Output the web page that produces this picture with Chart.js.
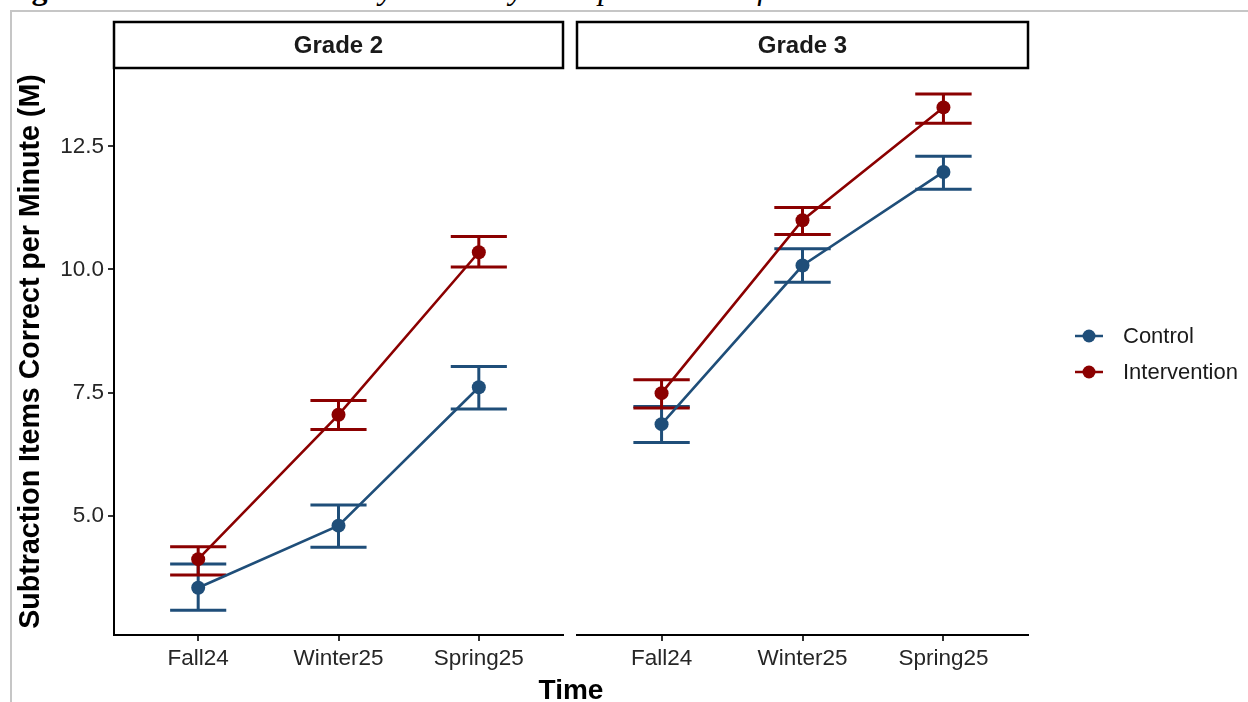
<!DOCTYPE html>
<html>
<head>
<meta charset="utf-8">
<script src="https://cdn.jsdelivr.net/npm/chart.js@4.4.1/dist/chart.umd.min.js"></script>
<style>
  html, body { margin: 0; padding: 0; background: #fff; }
  #wrap { position: relative; width: 1248px; height: 702px; overflow: hidden; background: #fff; }
  #frame { position: absolute; left: 10px; top: 10px; right: -4px; bottom: -4px; border-left: 2px solid #c6c6c6; border-top: 2px solid #c6c6c6; }
  canvas { position: absolute; left: 0; top: 0; }
  #caption { position: absolute; left: 3px; top: -28px; font: italic 32px "Liberation Serif", serif; line-height: 32px; white-space: nowrap; color: #000; }
  #caption b { font-style: normal; }
  #xtitle { position: absolute; left: 0; top: 676px; width: 1142px; text-align: center; font: bold 28px "Liberation Sans", Arial, sans-serif; line-height: 28px; color: #000; }
</style>
</head>
<body>
<div id="wrap">
  <div id="caption"><b>Figure 3.</b> Subtraction Fluency Scores by Group over Time for Grade 2 and Grade 3 Students</div>
  <div id="frame"></div>
  <canvas id="grade2" width="1248" height="702"></canvas>
  <canvas id="grade3" width="1248" height="702"></canvas>
  <div id="xtitle">Time</div>
</div>
<script>
const timeLabels = ['Fall24', 'Winter25', 'Spring25'];
const gradeLabels = ['Grade 2', 'Grade 3'];
const groupLabels = ['Control', 'Intervention'];
const groupColors = ['#1f4e79', '#8b0000'];
const yTicks = [5, 7.5, 10, 12.5];

// means and error bar ends
const g2ControlMean = [3.54, 4.80, 7.61];
const g2ControlLow = [3.08, 4.36, 7.17];
const g2ControlHigh = [4.02, 5.22, 8.03];
const g2InterMean = [4.12, 7.05, 10.35];
const g2InterLow = [3.80, 6.75, 10.05];
const g2InterHigh = [4.37, 7.34, 10.67];

const g3ControlMean = [6.86, 10.08, 11.98];
const g3ControlLow = [6.49, 9.74, 11.63];
const g3ControlHigh = [7.22, 10.42, 12.30];
const g3InterMean = [7.49, 11.00, 13.29];
const g3InterLow = [7.19, 10.71, 12.97];
const g3InterHigh = [7.76, 11.26, 13.56];

const FONT = '"Liberation Sans", Arial, sans-serif';

function points(mean, low, high) {
  return mean.map((m, i) => ({ x: i, y: m, low: low[i], high: high[i] }));
}

const errorBars = {
  id: 'errorBars',
  beforeDatasetsDraw(chart) {
    const { ctx, scales: { x, y } } = chart;
    chart.data.datasets.forEach(ds => {
      ctx.save();
      ctx.strokeStyle = ds.borderColor;
      ctx.lineWidth = 3;
      ds.data.forEach(d => {
        const px = x.getPixelForValue(d.x);
        const half = x.getPixelForValue(d.x + 0.2) - px;
        const yl = y.getPixelForValue(d.low);
        const yh = y.getPixelForValue(d.high);
        ctx.beginPath();
        ctx.moveTo(px - half, yh); ctx.lineTo(px + half, yh);
        ctx.moveTo(px, yh); ctx.lineTo(px, yl);
        ctx.moveTo(px - half, yl); ctx.lineTo(px + half, yl);
        ctx.stroke();
      });
      ctx.restore();
    });
  }
};

const strip = {
  id: 'strip',
  afterDraw(chart, args, opts) {
    const { ctx, chartArea: a } = chart;
    ctx.save();
    ctx.lineWidth = 2.5;
    ctx.strokeStyle = '#000';
    ctx.strokeRect(a.left, 22, a.right - a.left, a.top - 22);
    ctx.font = 'bold 24px ' + FONT;
    ctx.fillStyle = '#1a1a1a';
    ctx.textAlign = 'center';
    ctx.textBaseline = 'middle';
    ctx.fillText(opts.text, (a.left + a.right) / 2, (22 + a.top) / 2 + 1);
    ctx.restore();
  }
};

const sideLegend = {
  id: 'sideLegend',
  afterDraw(chart, args, opts) {
    if (!opts.show) return;
    const { ctx } = chart;
    ctx.save();
    groupLabels.forEach((name, i) => {
      const cy = 336 + i * 36;
      ctx.strokeStyle = groupColors[i];
      ctx.fillStyle = groupColors[i];
      ctx.lineWidth = 2.5;
      ctx.beginPath();
      ctx.moveTo(1075, cy); ctx.lineTo(1103, cy);
      ctx.stroke();
      ctx.beginPath();
      ctx.arc(1089, cy, 6.5, 0, Math.PI * 2);
      ctx.fill();
      ctx.font = '22px ' + FONT;
      ctx.fillStyle = '#1a1a1a';
      ctx.textAlign = 'left';
      ctx.textBaseline = 'middle';
      ctx.fillText(name, 1123, cy + 1);
    });
    ctx.restore();
  }
};

function makePanel(id, grade, series, showY, padding) {
  const axisGrid = { display: true, drawOnChartArea: false, drawTicks: true, tickLength: 6, color: '#333', lineWidth: 2 };
  new Chart(document.getElementById(id), {
    type: 'line',
    data: {
      datasets: series.map((s, i) => ({
        label: groupLabels[i],
        data: s,
        borderColor: groupColors[i],
        backgroundColor: groupColors[i],
        pointBackgroundColor: groupColors[i],
        borderWidth: 2.6,
        pointRadius: 7,
        pointBorderWidth: 0,
        tension: 0
      }))
    },
    options: {
      responsive: false,
      animation: false,
      devicePixelRatio: 1,
      layout: { padding },
      plugins: {
        legend: { display: false },
        tooltip: { enabled: false },
        strip: { text: gradeLabels[grade] },
        sideLegend: { show: !showY }
      },
      scales: {
        x: {
          type: 'linear',
          min: -0.6,
          max: 2.6,
          afterBuildTicks: s => { s.ticks = timeLabels.map((_, i) => ({ value: i })); },
          afterFit: s => { s.height = 67; },
          ticks: { callback: v => timeLabels[v], font: { size: 22.5, family: FONT }, color: '#262626', padding: 4, maxRotation: 0, autoSkip: false },
          grid: axisGrid,
          border: { display: true, color: '#000', width: 2 }
        },
        y: {
          type: 'linear',
          display: showY,
          min: 2.58,
          max: 14.09,
          afterBuildTicks: s => { s.ticks = yTicks.map(v => ({ value: v })); },
          afterFit: s => { s.width = showY ? 114 : 0; },
          ticks: { callback: v => v.toFixed(1), font: { size: 22.5, family: FONT }, color: '#262626', padding: 4 },
          grid: axisGrid,
          border: { display: true, color: '#000', width: 2 },
          title: {
            display: true,
            text: 'Subtraction Items Correct per Minute (M)',
            font: { size: 28.6, weight: 'bold', family: FONT },
            color: '#000',
            padding: { top: 14, bottom: 0 }
          }
        }
      }
    },
    plugins: [errorBars, strip, sideLegend]
  });
}

makePanel('grade2', 0, [
  points(g2ControlMean, g2ControlLow, g2ControlHigh),
  points(g2InterMean, g2InterLow, g2InterHigh)
], true, { left: 0, right: 685, top: 68, bottom: 0 });

makePanel('grade3', 1, [
  points(g3ControlMean, g3ControlLow, g3ControlHigh),
  points(g3InterMean, g3InterLow, g3InterHigh)
], false, { left: 577, right: 220, top: 68, bottom: 0 });
</script>
</body>
</html>
